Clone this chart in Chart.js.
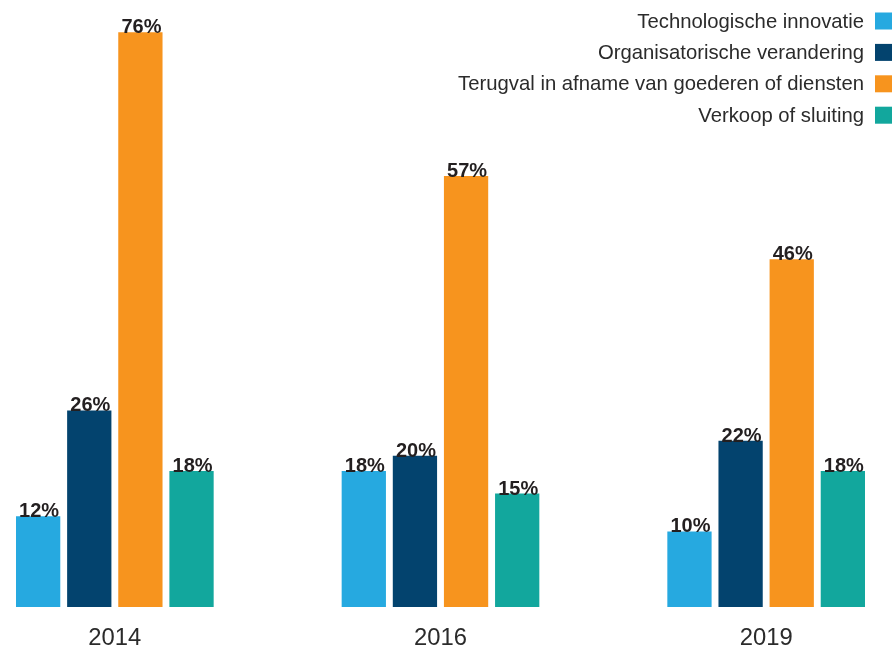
<!DOCTYPE html>
<html>
<head>
<meta charset="utf-8">
<script src="https://cdn.jsdelivr.net/npm/chart.js@4"></script>
<style>
  html, body { margin: 0; padding: 0; background: #fff; overflow: hidden; }
  #wrap { position: absolute; left: -48px; top: 0; width: 977px; height: 648px; }
</style>
</head>
<body>
<div id="wrap"><canvas id="chart"></canvas></div>
<script>
// categories + series (percentages)
const years = ["2014", "2016", "2019"];
const seriesNames = [
  "Technologische innovatie",
  "Organisatorische verandering",
  "Terugval in afname van goederen of diensten",
  "Verkoop of sluiting"
];
const techInnovatie = [12, 18, 10];
const orgVerandering = [26, 20, 22];
const terugval = [76, 57, 46];
const verkoopSluiting = [18, 15, 18];
const colors = ["#26a9e0", "#03436e", "#f7941e", "#12a79d"];

const textColor = "#2b2b2b";

// value labels on top of each bar
const barLabels = {
  id: "barLabels",
  afterDatasetsDraw(chart) {
    const ctx = chart.ctx;
    ctx.save();
    ctx.font = "bold 20px 'Liberation Sans', Arial, sans-serif";
    ctx.fillStyle = "#231f20";
    ctx.textAlign = "center";
    ctx.textBaseline = "alphabetic";
    chart.data.datasets.forEach((ds, i) => {
      chart.getDatasetMeta(i).data.forEach((bar, j) => {
        ctx.fillText(ds.data[j] + "%", bar.x + 1, bar.y + 1);
      });
    });
    ctx.restore();
  }
};

// legend in the top right corner, box on the right of the text
const cornerLegend = {
  id: "cornerLegend",
  afterDraw(chart) {
    const ctx = chart.ctx;
    const right = chart.width - 54;   // box left edge
    ctx.save();
    ctx.font = "20.3px 'Liberation Sans', Arial, sans-serif";
    ctx.textAlign = "right";
    ctx.textBaseline = "middle";
    chart.data.datasets.forEach((ds, i) => {
      const cy = 21 + i * 31.4;
      ctx.fillStyle = ds.backgroundColor;
      ctx.fillRect(right, cy - 8.5, 17, 17);
      ctx.fillStyle = textColor;
      ctx.fillText(ds.label, right - 11, cy + 1);
    });
    ctx.restore();
  }
};

const seriesData = [techInnovatie, orgVerandering, terugval, verkoopSluiting];

new Chart(document.getElementById("chart").getContext("2d"), {
  type: "bar",
  data: {
    labels: years,
    datasets: seriesNames.map((name, i) => ({
      label: name,
      data: seriesData[i],
      backgroundColor: colors[i],
      borderWidth: 0,
      categoryPercentage: 0.628,
      barPercentage: 0.866
    }))
  },
  options: {
    responsive: true,
    maintainAspectRatio: false,
    animation: false,
    layout: { padding: { top: 2, left: 0, right: 0, bottom: 0 } },
    plugins: {
      legend: { display: false },
      tooltip: { enabled: false }
    },
    scales: {
      x: {
        grid: { display: false, drawTicks: false },
        border: { display: false },
        ticks: {
          color: textColor,
          padding: 17,
          font: { family: "'Liberation Sans', Arial, sans-serif", size: 23.8 }
        },
        afterFit(scale) { scale.height = 41; }
      },
      y: {
        display: false,
        min: 0,
        max: 80
      }
    }
  },
  plugins: [barLabels, cornerLegend]
});
</script>
</body>
</html>
